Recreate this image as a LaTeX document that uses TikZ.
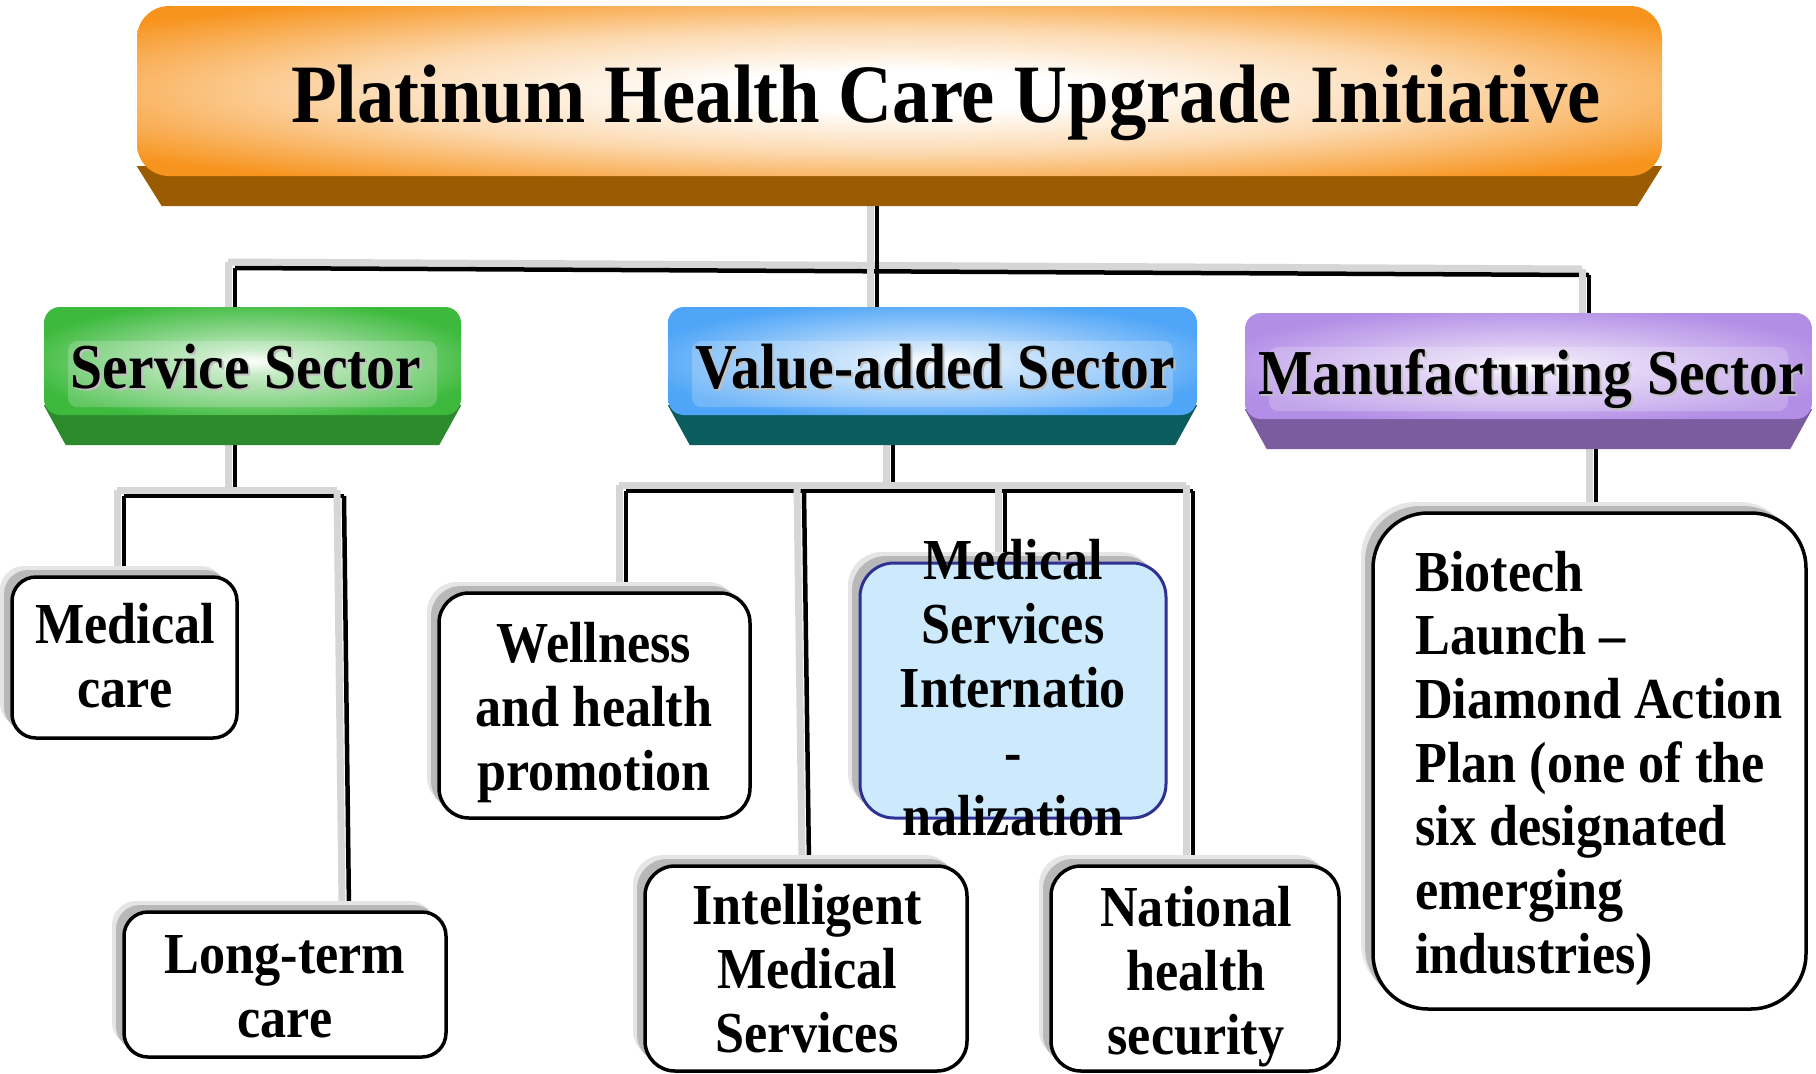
\documentclass[tikz,border=0pt]{standalone}
\usepackage{fontspec}
\setmainfont{Liberation Serif}[FakeStretch=0.9]
\usetikzlibrary{shadows,calc}
\pgfdeclarelayer{paper}
\pgfdeclarelayer{lines}
\pgfdeclarelayer{bands}
\pgfsetlayers{paper,lines,bands,main}
\definecolor{orF}{HTML}{F7941E}
\definecolor{orB}{HTML}{9B5B00}
\definecolor{grF}{HTML}{3DBA3D}
\definecolor{grB}{HTML}{2C8A2C}
\definecolor{blF}{HTML}{4FA5F7}
\definecolor{blB}{HTML}{0B5C5C}
\definecolor{puF}{HTML}{B38EE6}
\definecolor{puB}{HTML}{7B5C9E}
\definecolor{msiF}{HTML}{CDEAFD}
\definecolor{msiD}{HTML}{2E3192}
\colorlet{orP}{orF!35!white}
\colorlet{grP}{grF!35!white}
\colorlet{blP}{blF!30!white}
\colorlet{puP}{puF!35!white}
\pgfdeclareradialshading{glowO}{\pgfpoint{0bp}{0bp}}{color(0bp)=(white); color(6bp)=(white); color(18bp)=(orP); color(32bp)=(orF); color(50bp)=(orF)}
\pgfdeclareradialshading{glowG}{\pgfpoint{0bp}{0bp}}{color(0bp)=(white); color(6bp)=(grP); color(28bp)=(grF); color(50bp)=(grF)}
\pgfdeclareradialshading{glowB}{\pgfpoint{0bp}{0bp}}{color(0bp)=(white); color(6bp)=(blP); color(28bp)=(blF); color(50bp)=(blF)}
\pgfdeclareradialshading{glowP}{\pgfpoint{0bp}{0bp}}{color(0bp)=(white); color(6bp)=(puP); color(28bp)=(puF); color(50bp)=(puF)}
\newcommand\shtext[1]{\rlap{\kern2pt\raisebox{-2.5pt}{\textcolor{black!25}{#1}}}#1}
\newcommand\mlc[1]{\begin{tabular}[t]{@{}c@{}}#1\end{tabular}}
\newcommand\mll[1]{\begin{tabular}[t]{@{}l@{}}#1\end{tabular}}
\newcommand\bandpoly[4]{\fill[#2] ([yshift=10pt]#1.south west) -- ([xshift=#4,yshift=-#3]#1.south west) -- ([xshift=-#4,yshift=-#3]#1.south east) -- ([yshift=10pt]#1.south east) -- cycle;}
\newcommand\gloss[1]{\fill[white,opacity=0.2,rounded corners=10pt] ([xshift=24pt,yshift=-34pt]#1.north west) rectangle ([xshift=-24pt,yshift=8pt]#1.south east);}
\tikzset{
  sface/.style={shape=rectangle, rounded corners=16pt, inner sep=0pt, draw=none, shading=#1},
  wbox/.style={shape=rectangle, draw=black, line width=3.5pt, fill=white, rounded corners=#1, inner sep=0pt,
     general shadow={fill=black!10, shadow xshift=-12pt, shadow yshift=11pt},
     general shadow={fill=black!28, shadow xshift=-8pt, shadow yshift=7pt}},
  wbox/.default=24pt,
  conn/.style={draw=black, line width=4.5pt, preaction={draw=black!16, line width=7pt, transform canvas={shift={(-7pt,6pt)}}}},
  ttlf/.style={font=\bfseries\fontsize{83}{90}\selectfont, inner sep=0pt},
  secf/.style={font=\bfseries\fontsize{64}{70}\selectfont, inner sep=0pt, anchor=base},
  bodyf/.style={font=\bfseries\fontsize{58}{64}\selectfont, inner sep=0pt, anchor=base},
}
\begin{document}
\begin{tikzpicture}[x=1pt,y=-1pt]
\useasboundingbox (0,0) rectangle (1816,1074);
\begin{pgfonlayer}{paper}
\fill[white] (0,0) rectangle (1816,1074);
\end{pgfonlayer}
% sector and title faces
\node[sface=glowO, minimum width=1525pt, minimum height=170pt, rounded corners=32pt] (ttl) at (899.5,91) {};
\node[sface=glowG, minimum width=417pt, minimum height=108pt] (svc) at (252.5,361) {};
\node[sface=glowB, minimum width=529pt, minimum height=108pt] (val) at (932.5,361) {};
\node[sface=glowP, minimum width=567pt, minimum height=106pt] (man) at (1528.5,366) {};
\gloss{svc}
\gloss{val}
\gloss{man}
\node[ttlf, anchor=base] (ttlT) at (946,122) {Platinum Health Care Upgrade Initiative};
\node[secf] (svcT) at (246,388) {\shtext{Service Sector}};
\node[secf] (valT) at (935,388) {\shtext{Value-added Sector}};
\node[secf] (manT) at (1531,394) {\shtext{Manufacturing Sector}};
% white boxes
\node[wbox, minimum width=225pt, minimum height=161pt] (med) at (124.5,657.5) {};
\node[bodyf] (medT) at (125,643) {\mlc{Medical\\care}};
\node[wbox, minimum width=322pt, minimum height=145pt] (ltc) at (285,984.5) {};
\node[bodyf] (ltcT) at (285,973) {\mlc{Long-term\\care}};
\node[wbox=30pt, minimum width=311pt, minimum height=225pt] (well) at (594.5,705.5) {};
\node[bodyf] (wellT) at (594,662) {\mlc{Wellness\\and health\\promotion}};
\node[wbox=34pt, fill=msiF, draw=msiD, line width=3pt, minimum width=306pt, minimum height=255pt] (msi) at (1013,690.5) {};
\node[bodyf] (msiT) at (1013,579) {\mlc{Medical\\Services\\Internatio\\-\\nalization}};
\node[wbox=30pt, minimum width=322pt, minimum height=205pt] (ims) at (806,968.5) {};
\node[bodyf] (imsT) at (807,924) {\mlc{Intelligent\\Medical\\Services}};
\node[wbox=30pt, minimum width=288pt, minimum height=205pt] (nhs) at (1195,968.5) {};
\node[bodyf] (nhsT) at (1196,926) {\mlc{National\\health\\security}};
\node[wbox=55pt, minimum width=433pt, minimum height=496pt] (bio) at (1589.5,761) {};
\node[font=\bfseries\fontsize{58}{63.7}\selectfont, inner sep=0pt, anchor=base west] (bioT) at (1415,591) {\mll{Biotech\\Launch –\\Diamond Action\\Plan (one of the\\six designated\\emerging\\industries)}};
% bands
\begin{pgfonlayer}{bands}
\bandpoly{ttl}{orB}{30pt}{25pt}
\bandpoly{svc}{grB}{30pt}{22pt}
\bandpoly{val}{blB}{30pt}{22pt}
\bandpoly{man}{puB}{30pt}{22pt}
\end{pgfonlayer}
% connectors
\begin{pgfonlayer}{lines}
\coordinate (bl) at (235,268);
\coordinate (br) at (1589,275);
\coordinate (tbar) at (877,271);
\draw[conn] (bl) -- (br);
\draw[conn] (ttl.center -| tbar) -- (tbar |- val.center);
\draw[conn] (bl) -- (bl |- svc.center);
\draw[conn] (br) -- (br |- man.center);
\coordinate (sj) at (235,496);
\coordinate (sl) at (124,496);
\coordinate (sr) at (344,496);
\draw[conn] (svc.center -| sj) -- (sj);
\draw[conn] (sl) -- (sr);
\draw[conn] (sl) -- (sl |- med.north);
\draw[conn] (sr) -- ([xshift=64pt]ltc.north);
\coordinate (vj) at (893,491);
\coordinate (v1) at (626,491);
\coordinate (v2) at (804,491);
\coordinate (v3) at (1005,491);
\coordinate (v4) at (1193,491);
\draw[conn] (val.center -| vj) -- (vj);
\draw[conn] (v1) -- (v4);
\draw[conn] (v1) -- (v1 |- well.north);
\draw[conn] (v2) -- ([xshift=3pt]ims.north);
\draw[conn] (v3) -- (v3 |- msi.north);
\draw[conn] (v4) -- (v4 |- nhs.north);
\coordinate (mj) at (1596,449);
\draw[conn] (man.center -| mj) -- (mj |- bio.north);
\end{pgfonlayer}
\end{tikzpicture}
\end{document}
